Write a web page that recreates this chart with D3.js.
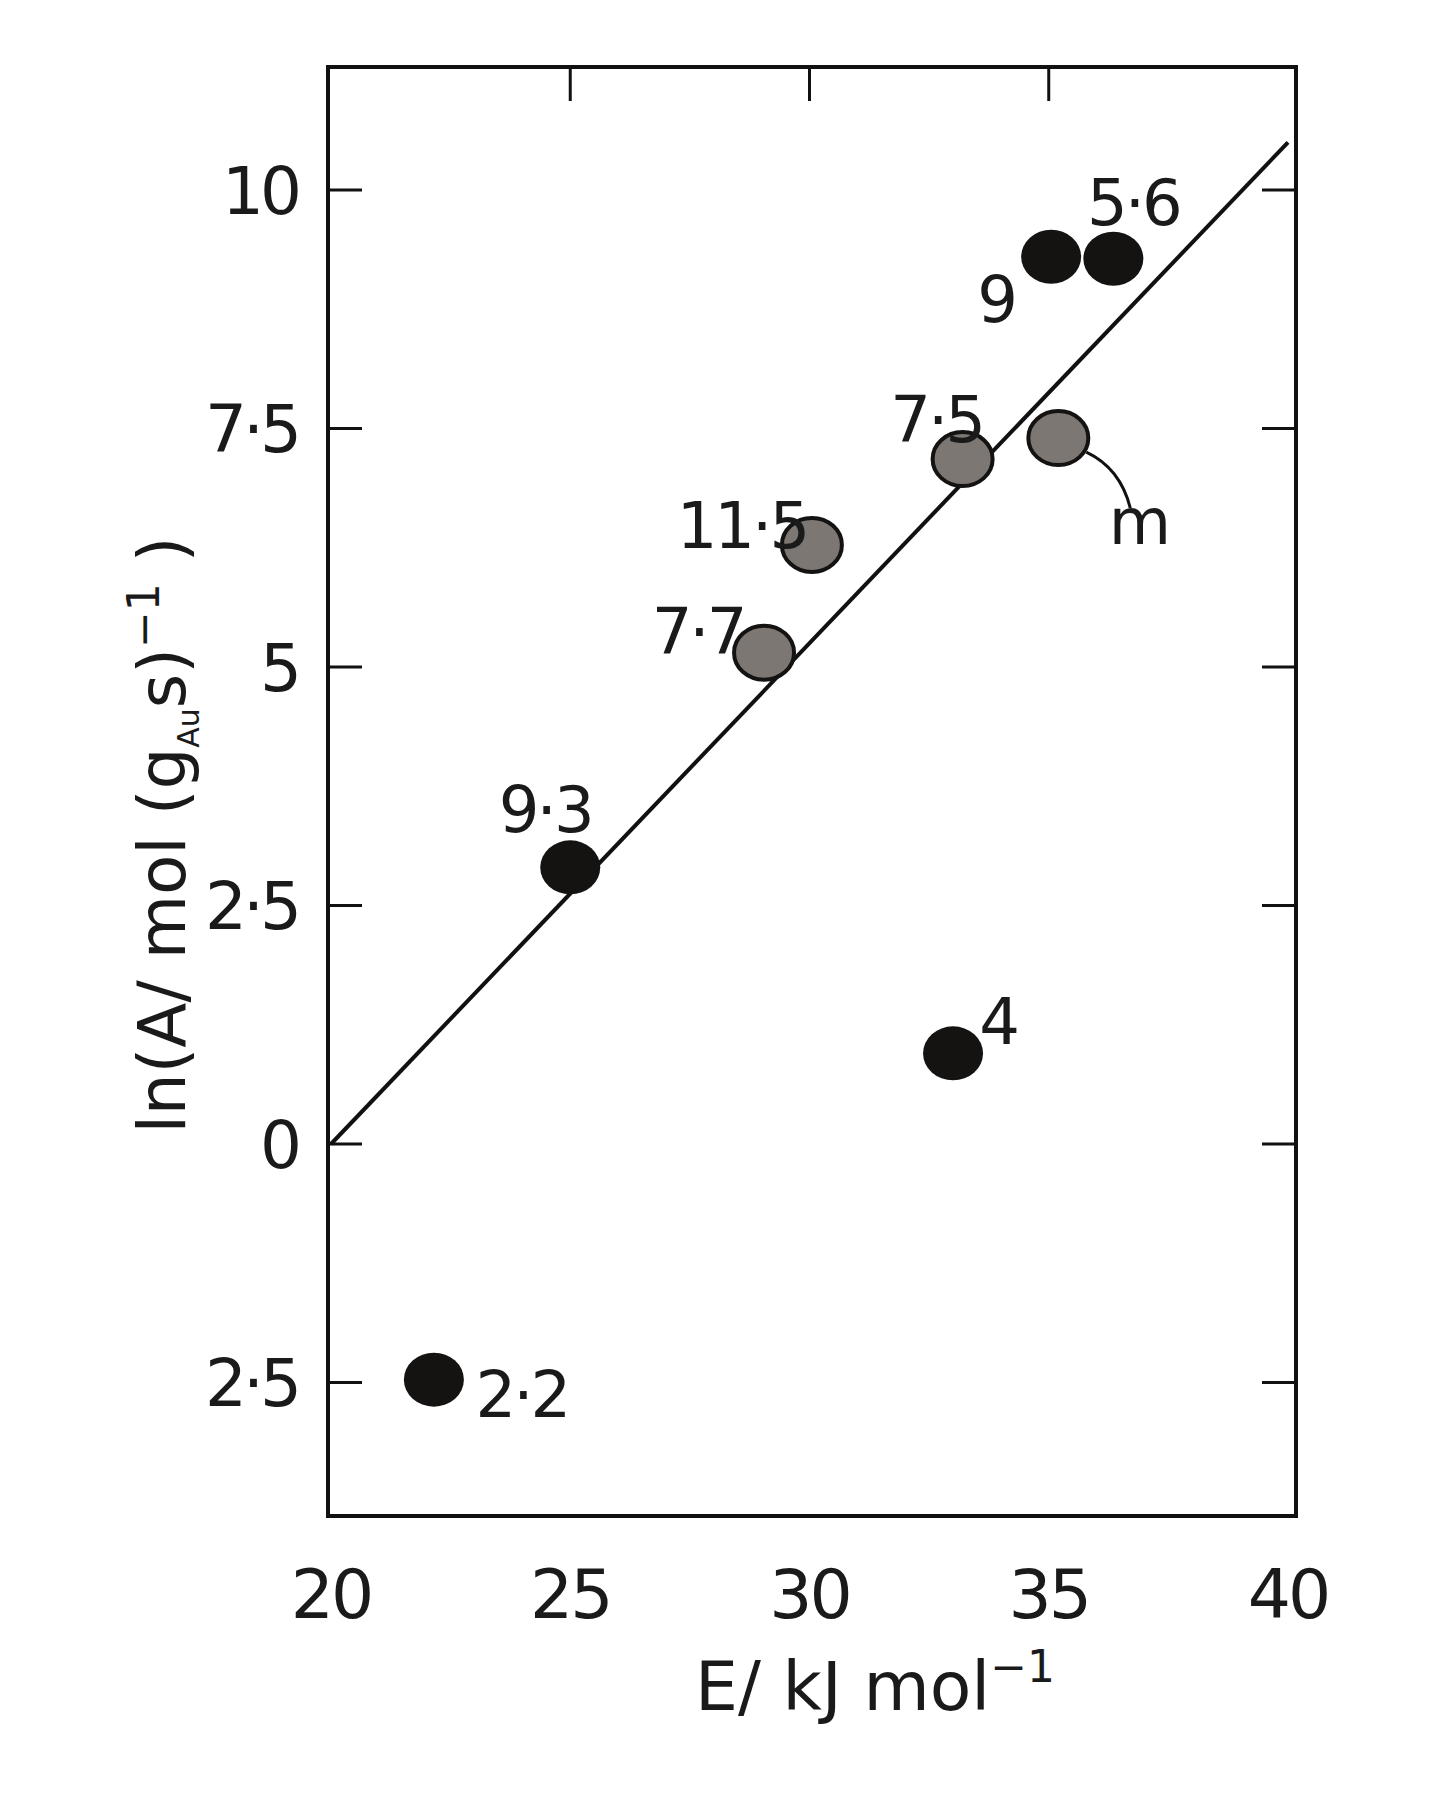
<!DOCTYPE html><html><head><meta charset="utf-8">
<script src="https://cdn.jsdelivr.net/npm/d3@7"></script>
<style>body{margin:0;background:#fff}text{font-family:"DejaVu Sans",sans-serif;fill:#1a1a1a}</style></head>
<body><svg id="c" width="1438" height="1805"></svg>
<script>
const xTicks=[20,25,30,35,40];
const yTicks=[10,7.5,5,2.5,0,-2.5];
const yTickLabels=["10","7·5","5","2·5","0","2·5"];
const labels=["2·2","9·3","7·7","11·5","7·5","4","9","5·6","m"];
const xs=[22.15,25.0,29.05,30.05,33.2,33.0,35.05,36.35,35.2];
const ys=[-2.47,2.9,5.15,6.28,7.18,0.95,9.3,9.28,7.4];
const kinds=["b","b","g","g","g","b","b","b","g"];
const fit=[[20,0],[40,10.5]];
const svg=d3.select("#c");
const L=328,R=1296,T=67,B=1516;
const x=d3.scaleLinear().domain([20,40]).range([331,1288]);
const y=d3.scaleLinear().domain([0,10]).range([1144,190]);
svg.append("rect").attr("x",L).attr("y",T).attr("width",R-L).attr("height",B-T).attr("fill","none").attr("stroke","#111").attr("stroke-width",4);
const tl=34;
yTicks.forEach(v=>{svg.append("line").attr("x1",L).attr("x2",L+tl).attr("y1",y(v)).attr("y2",y(v)).attr("stroke","#111").attr("stroke-width",3);
svg.append("line").attr("x1",R).attr("x2",R-tl).attr("y1",y(v)).attr("y2",y(v)).attr("stroke","#111").attr("stroke-width",3);});
xTicks.slice(1,-1).forEach(v=>{svg.append("line").attr("x1",x(v)).attr("x2",x(v)).attr("y1",T).attr("y2",T+tl).attr("stroke","#111").attr("stroke-width",3);});
yTicks.forEach((v,i)=>svg.append("text").attr("x",L-30).attr("y",y(v)).attr("dy","0.36em").attr("text-anchor","end").attr("font-size",66).attr("letter-spacing",-4).text(yTickLabels[i]));
xTicks.forEach(v=>svg.append("text").attr("x",x(v)).attr("y",1618).attr("text-anchor","middle").attr("font-size",68).attr("letter-spacing",-3).text(v));
svg.append("text").attr("x",875).attr("y",1710).attr("text-anchor","middle").attr("font-size",68).text("E/ kJ mol").append("tspan").attr("font-size",44).attr("dy",-28).text("−1");
const yl=svg.append("text").attr("transform","translate(185,835) rotate(-90)").attr("text-anchor","middle").attr("font-size",66);
yl.append("tspan").text("ln(A/ mol (g");yl.append("tspan").attr("font-size",30).attr("dy",14).text("Au");
yl.append("tspan").attr("dy",-14).text("s)");yl.append("tspan").attr("font-size",44).attr("dy",-26).text("−1");
yl.append("tspan").attr("dy",26).text(" )");
svg.append("line").attr("x1",x(fit[0][0])).attr("y1",y(fit[0][1])).attr("x2",x(fit[1][0])).attr("y2",y(fit[1][1])).attr("stroke","#111").attr("stroke-width",4);
const mi=8;
svg.append("path").attr("d",`M${x(xs[mi])+28},${y(ys[mi])+14} Q${x(xs[mi])+62},${y(ys[mi])+30} ${x(xs[mi])+72},${y(ys[mi])+70}`).attr("fill","none").attr("stroke","#111").attr("stroke-width",3);
xs.forEach((v,i)=>svg.append("ellipse").attr("cx",x(v)).attr("cy",y(ys[i])).attr("rx",30).attr("ry",27)
 .attr("fill",kinds[i]=="b"?"#151212":"#7d7773").attr("stroke","#151212").attr("stroke-width",kinds[i]=="b"?0:4));
const off=[[88,14],[-25,-58],[-66,-22],[-70,-20],[-26,-40],[45,-32],[-55,42],[20,-57],[80,83]];
labels.forEach((t,i)=>svg.append("text").attr("x",x(xs[i])+off[i][0]).attr("y",y(ys[i])+off[i][1]).attr("dy","0.36em").attr("text-anchor","middle").attr("font-size",64).attr("letter-spacing",-3).text(t));
</script></body></html>
